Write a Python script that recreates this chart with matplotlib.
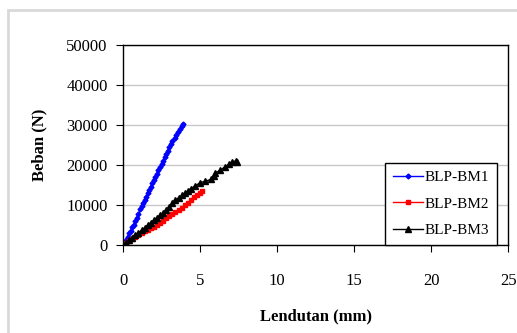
import matplotlib
matplotlib.use("Agg")
from matplotlib import pyplot as plt
from matplotlib.patches import Rectangle

# data (lendutan in mm, beban in N)
bm1_x = [0, 0.1, 0.2, 0.3, 0.4, 0.5, 0.6, 0.7, 0.8, 0.9, 1.0, 1.1, 1.2, 1.3, 1.4,
         1.5, 1.6, 1.7, 1.8, 1.9, 2.0, 2.1, 2.2, 2.3, 2.4, 2.5, 2.6, 2.7, 2.8, 2.9,
         3.0, 3.1, 3.2, 3.35, 3.45, 3.55, 3.7, 3.8, 3.9]
bm1_y = [0, 600, 1300, 2100, 2900, 3600, 4400, 5100, 6000, 6800, 7700, 8900, 9800,
         10500, 11300, 12100, 12900, 13800, 14600, 15400, 16300, 17100, 17800,
         18700, 19500, 20300, 21100, 21900, 22700, 23600, 24400, 25200, 25900,
         26800, 27600, 28300, 29100, 29800, 30300]

bm2_x = [0, 0.2, 0.4, 0.6, 0.8, 1.0, 1.2, 1.4, 1.6, 1.8, 2.0, 2.2, 2.4, 2.6, 2.8,
         3.0, 3.2, 3.4, 3.6, 3.8, 4.0, 4.2, 4.4, 4.6, 4.8, 5.0, 5.15]
bm2_y = [0, 500, 1000, 1500, 2000, 2500, 2900, 3400, 3800, 4200, 4600, 5100, 5600,
         6100, 6700, 7200, 7700, 8200, 8700, 9300, 9900, 10500, 11300, 12000,
         12500, 13000, 13600]

bm3_x = [0, 0.2, 0.4, 0.6, 0.8, 1.0, 1.2, 1.4, 1.6, 1.8, 2.0, 2.2, 2.4, 2.6, 2.8,
         3.0, 3.2, 3.4, 3.6, 3.8, 4.0, 4.2, 4.4, 4.7, 5.0, 5.3, 5.7, 5.9, 6.0,
         6.3, 6.6, 6.9, 7.1, 7.3, 7.4]
bm3_y = [0, 500, 1200, 1800, 2500, 3100, 3700, 4300, 5000, 5600, 6200, 6800, 7400,
         8100, 8800, 9600, 10400, 11200, 11800, 12400, 12900, 13500, 14100, 14800,
         15600, 15900, 16400, 17300, 18000, 18700, 19500, 20200, 20800, 21000, 20700]

x_ticks = [0, 5, 10, 15, 20, 25]
y_ticks = [0, 10000, 20000, 30000, 40000, 50000]

plt.rcParams['font.family'] = ['Liberation Serif', 'DejaVu Serif']

fig = plt.figure(figsize=(5.17, 3.33), dpi=100)
# grey frame around the chart area
fig.patches.append(Rectangle((8 / 517, -0.1), 1.2, 1 - 10 / 333 + 0.1,
                             transform=fig.transFigure, fill=False,
                             edgecolor='#d9d9d9', linewidth=2))

ax = fig.add_axes([0.238, 0.264, 0.745, 0.601])
ax.plot(bm1_x, bm1_y, color='blue', marker='D', markersize=2.5, linewidth=1,
        label='BLP-BM1')
ax.plot(bm2_x, bm2_y, color='red', marker='s', markersize=3, linewidth=1,
        label='BLP-BM2')
ax.plot(bm3_x, bm3_y, color='black', marker='^', markersize=4, linewidth=1,
        label='BLP-BM3')

ax.set_xlim(0, 25)
ax.set_ylim(0, 50000)
ax.set_xticks(x_ticks)
ax.set_yticks(y_ticks)
ax.yaxis.grid(True, color='#c8c8c8', linewidth=1)
ax.set_axisbelow(True)
ax.tick_params(axis='x', direction='out', length=5, pad=15, labelsize=12)
ax.tick_params(axis='y', direction='out', length=5, pad=6, labelsize=12)
for s in ax.spines.values():
    s.set_linewidth(1)

ax.set_xlabel('Lendutan (mm)', fontsize=12, fontweight='bold', labelpad=14)
ax.set_ylabel('Beban (N)', fontsize=12, fontweight='bold', labelpad=14)

leg = ax.legend(loc='lower right', bbox_to_anchor=(0.971, 0.0), borderaxespad=0,
                fontsize=11, fancybox=False, edgecolor='black', framealpha=1,
                handlelength=2.0, handletextpad=0.1, labelspacing=0.85,
                borderpad=0.5)
leg.get_frame().set_linewidth(1)

plt.savefig("out.png", dpi=100)
